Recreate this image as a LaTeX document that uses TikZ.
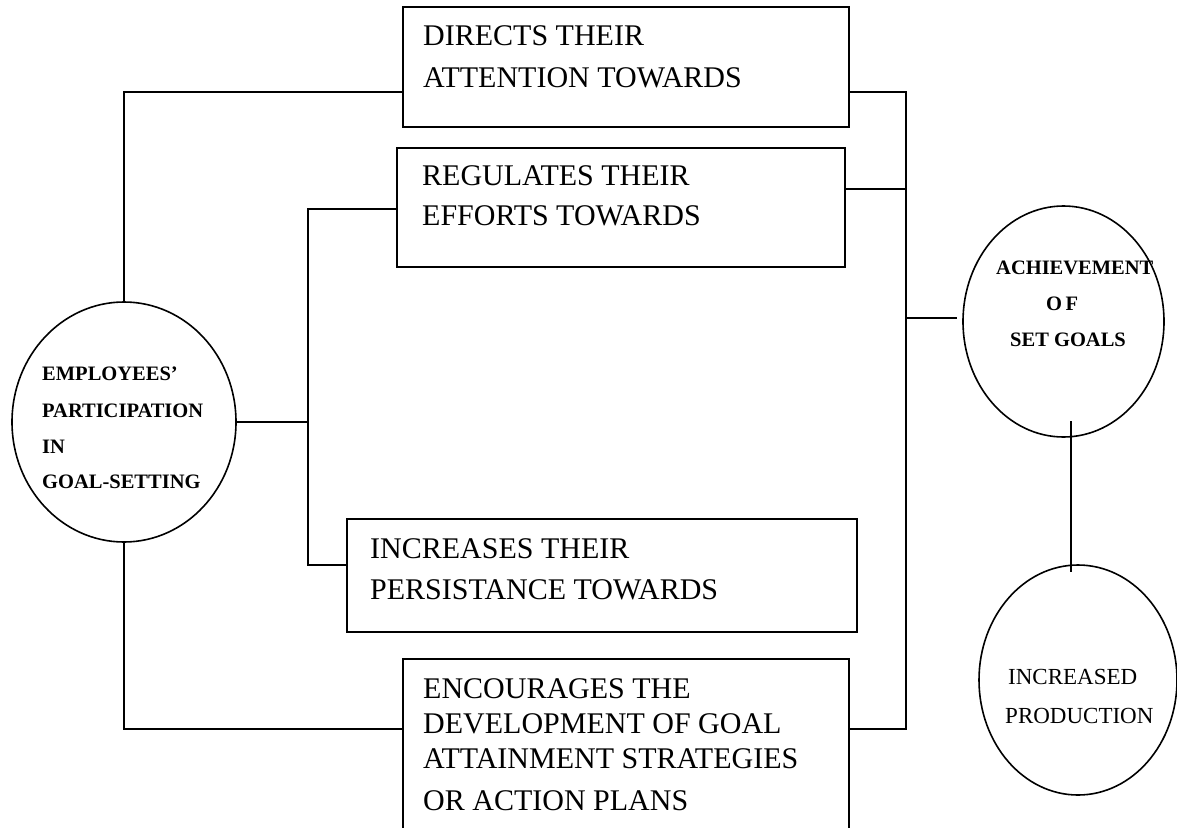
\documentclass[tikz,border=0pt]{standalone}
\usepackage{fontspec}
\setmainfont{Liberation Serif}
\usetikzlibrary{shapes.geometric}
\begin{document}
\begin{tikzpicture}[x=1pt,y=-1pt,
  conn/.style={line width=1.6pt},
  box/.style={draw,line width=1.6pt,rectangle,inner sep=0pt,outer sep=0pt},
  oval/.style={draw,line width=1.6pt,ellipse,inner sep=0pt,outer sep=0pt},
  boxtxt/.style={anchor=base west,inner sep=0pt,font=\fontsize{30}{36}\selectfont},
  boldtxt/.style={anchor=base west,inner sep=0pt,font=\fontsize{20.5}{24}\selectfont\bfseries},
  prodtxt/.style={anchor=base west,inner sep=0pt,font=\fontsize{23}{28}\selectfont}]
\useasboundingbox (0,0) rectangle (1177,827);
\clip (0,0) rectangle (1177,827);

% boxes
\node[box,minimum width=446pt,minimum height=120pt] (b1) at (626,67) {};
\node[box,minimum width=448pt,minimum height=119pt] (b2) at (621,207.5) {};
\node[box,minimum width=510pt,minimum height=113pt] (b3) at (602,575.5) {};
\node[box,minimum width=446pt,minimum height=181pt] (b4) at (626,749.5) {};

% ellipses
\node[oval,minimum width=224pt,minimum height=240pt] (emp) at (124,422) {};
\node[oval,minimum width=201pt,minimum height=231pt] (ach) at (1063.5,321.5) {};
\node[oval,minimum width=198pt,minimum height=230pt] (prod) at (1078,680) {};

% box texts
\node[boxtxt] (t1a) at (423,45) {DIRECTS THEIR};
\node[boxtxt] (t1b) at (423,87) {ATTENTION TOWARDS};
\node[boxtxt] (t2a) at (422,185) {REGULATES THEIR};
\node[boxtxt] (t2b) at (422,225) {EFFORTS TOWARDS};
\node[boxtxt] (t3a) at (370,558) {INCREASES THEIR};
\node[boxtxt] (t3b) at (370,599) {PERSISTANCE TOWARDS};
\node[boxtxt] (t4a) at (423,698) {ENCOURAGES THE};
\node[boxtxt] (t4b) at (423,733) {DEVELOPMENT OF GOAL};
\node[boxtxt] (t4c) at (423,768) {ATTAINMENT STRATEGIES};
\node[boxtxt] (t4d) at (423,810) {OR ACTION PLANS};

% ellipse texts
\node[boldtxt] (e1) at (42,380) {EMPLOYEES’};
\node[boldtxt] (e2) at (42,417) {PARTICIPATION};
\node[boldtxt] (e3) at (42,453) {IN};
\node[boldtxt] (e4) at (42,488) {GOAL-SETTING};
\node[boldtxt] (a1) at (996,274) {ACHIEVEMENT};
\node[boldtxt] (a2) at (1046,310) {O\,F};
\node[boldtxt] (a3) at (1010,346) {SET GOALS};
\node[prodtxt] (p1) at (1008,684) {INCREASED};
\node[prodtxt] (p2) at (1005,723) {PRODUCTION};

% helper coordinates
\coordinate (tl) at (124,92);
\coordinate (bl) at (124,729);
\coordinate (mv1) at (308,209);
\coordinate (mv2) at (308,565);
\coordinate (rt) at (906,92);
\coordinate (rb) at (906,729);
\coordinate (r2) at (906,189);
\coordinate (r3) at (906,318);
\coordinate (apx) at (1071,0);

% connectors
\draw[conn] (emp.north) -- (tl) -- (tl -| b1.west);
\draw[conn] (emp.south) -- (bl) -- (bl -| b4.west);
\draw[conn] (emp.east) -- (emp.east -| mv1);
\draw[conn] (mv1 -| b2.west) -- (mv1) -- (mv2) -- (mv2 -| b3.west);
\draw[conn] (rt -| b1.east) -- (rt) -- (rb) -- (rb -| b4.east);
\draw[conn] (r2 -| b2.east) -- (r2);
\draw[conn,shorten >=6pt] (r3) -- (r3 -| ach.west);
\draw[conn,shorten <=-16pt,shorten >=-7pt] (ach.south -| apx) -- (prod.north -| apx);
\end{tikzpicture}
\end{document}
